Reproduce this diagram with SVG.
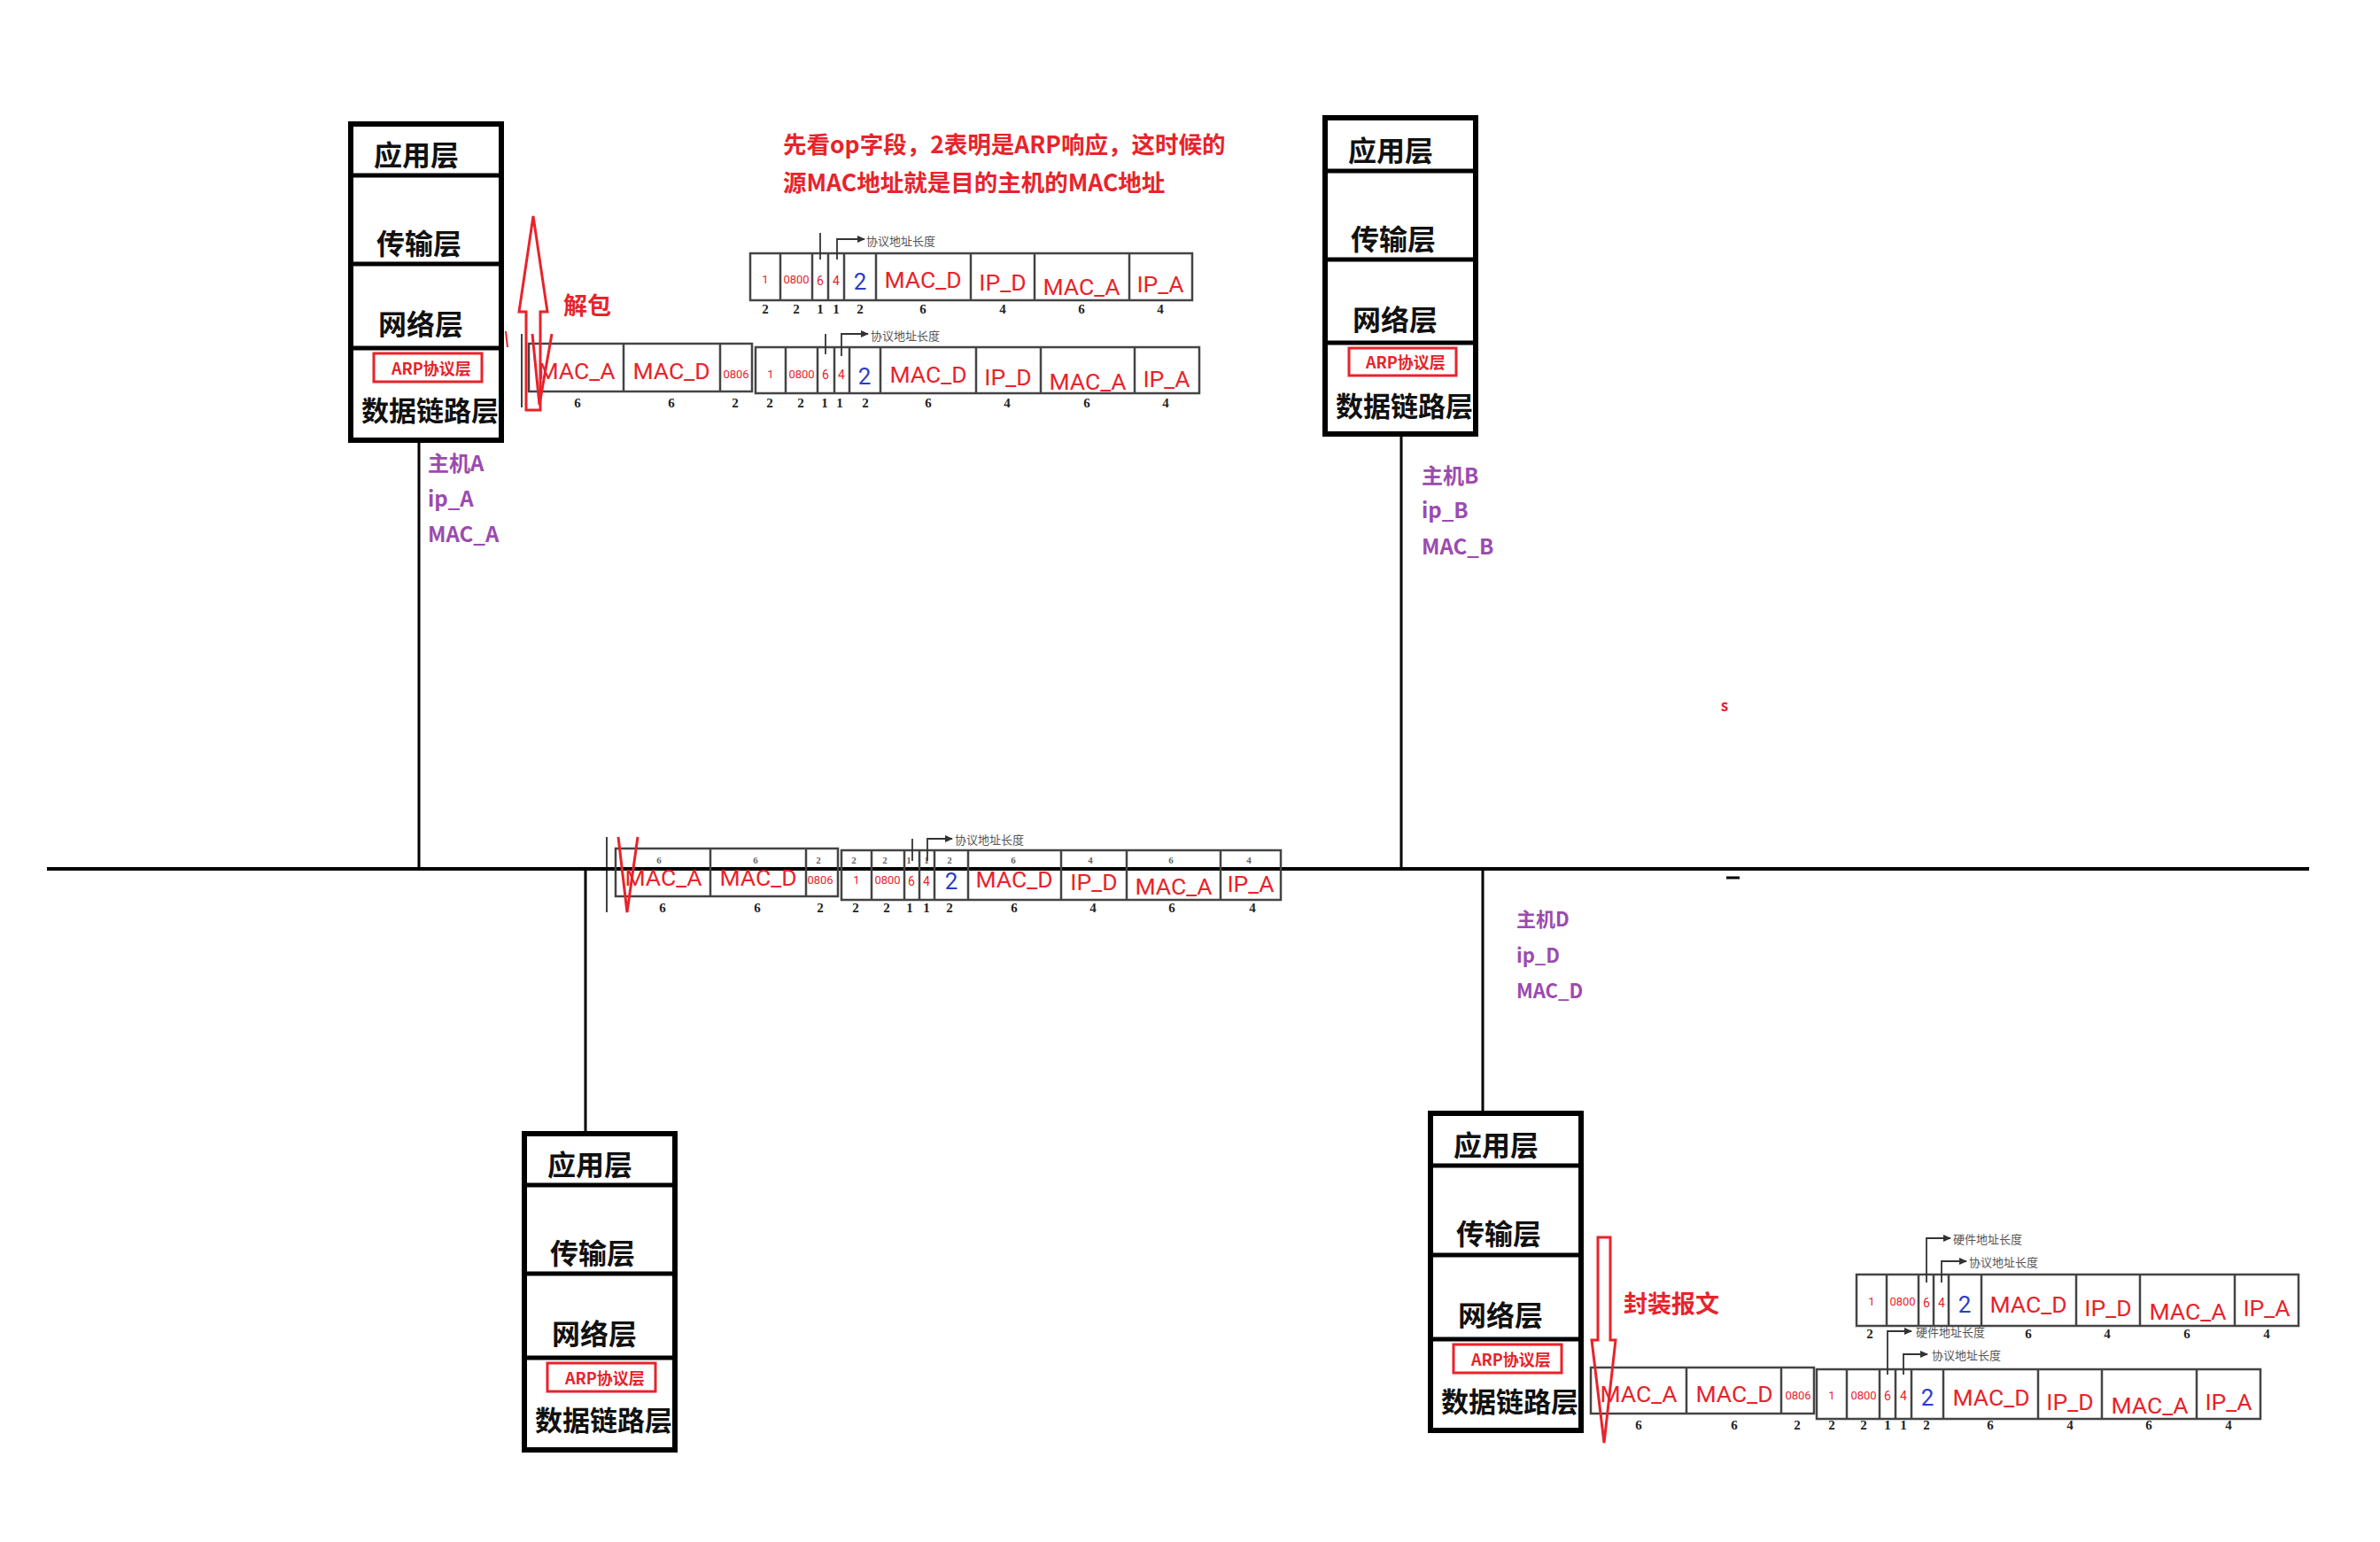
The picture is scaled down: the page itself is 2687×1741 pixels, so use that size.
<svg xmlns="http://www.w3.org/2000/svg" width="2687" height="1741" viewBox="0 0 2687 1741">
<style>
.bg{fill:#fff}
.box{fill:#fff;stroke:#000;stroke-width:6}
.dv{stroke:#000;stroke-width:5}
.lay{font-family:"Noto Sans CJK SC",sans-serif;font-weight:700;font-size:32px;fill:#111}
.dl{font-size:31px}
.arpbox{fill:none;stroke:#E8232B;stroke-width:3}
.arpt{font-family:"Noto Sans CJK SC",sans-serif;font-weight:700;font-size:18px;fill:#E8232B}
.info{font-family:"Noto Sans CJK SC",sans-serif;font-weight:700;font-size:24px;fill:#9B4BAF}
.infod{font-size:22px}
.wire{stroke:#000;stroke-width:3;fill:none}
.bus{stroke:#000;stroke-width:4}
.cell{fill:none;stroke:#444;stroke-width:2.5}
.f{font-family:Roboto,"Liberation Sans",sans-serif;fill:#E8232B;text-anchor:middle}
.big{font-size:26.5px}
.sm{font-size:13px}
.md{font-size:14px}
.op{font-family:Roboto,"Liberation Sans",sans-serif;font-size:26px;fill:#2B3CC8;text-anchor:middle}
.num{font-family:"Liberation Serif",serif;font-weight:700;font-size:15px;fill:#222;text-anchor:middle}
.inum{font-family:"Liberation Serif",serif;font-weight:700;font-size:11px;fill:#666;text-anchor:middle}
.ann{font-family:"Noto Sans CJK SC",sans-serif;font-size:13px;fill:#555}
.al{stroke:#333;stroke-width:1.8;fill:none}
.red{fill:none;stroke:#E8232B;stroke-width:3}
.title{font-family:"Noto Sans CJK SC",sans-serif;font-weight:700;font-size:26.5px;fill:#E8232B}
.lbl{font-family:"Noto Sans CJK SC",sans-serif;font-weight:700;font-size:27px;fill:#E8232B}
</style>
<defs>
<marker id="ah" markerWidth="9" markerHeight="8" refX="8" refY="4" orient="auto" markerUnits="userSpaceOnUse"><path d="M0,0 L9,4 L0,8 z" fill="#333"/></marker>
</defs>
<rect class="bg" x="0" y="0" width="2687" height="1741"/>

<g id="connectors">
<line class="bus" x1="53" y1="981" x2="2607" y2="981"/>
<line class="wire" x1="473" y1="500" x2="473" y2="981"/>
<line class="wire" x1="1582" y1="493" x2="1582" y2="981"/>
<line class="wire" x1="661" y1="981" x2="661" y2="1277"/>
<line class="wire" x1="1674" y1="981" x2="1674" y2="1254"/>
</g>

<g id="hostA" transform="translate(393,137)">
<rect class="box" x="3" y="3" width="170" height="357"/>
<line class="dv" x1="0" y1="61" x2="176" y2="61"/>
<line class="dv" x1="0" y1="161" x2="176" y2="161"/>
<line class="dv" x1="0" y1="256" x2="176" y2="256"/>
<text class="lay" x="29" y="50">应用层</text>
<text class="lay" x="32" y="150">传输层</text>
<text class="lay" x="34" y="241">网络层</text>
<rect class="arpbox" x="29" y="262" width="122" height="32"/>
<text class="arpt" x="49" y="286">ARP协议层</text>
<text class="lay dl" x="15" y="338">数据链路层</text>
</g>
<g id="hostA-info">
<text class="info" x="483" y="532">主机A</text>
<text class="info" x="483" y="572">ip_A</text>
<text class="info" x="483" y="612">MAC_A</text>
</g>

<g id="hostB" transform="translate(1493,130)">
<rect class="box" x="3" y="3" width="170" height="357"/>
<line class="dv" x1="0" y1="63" x2="176" y2="63"/>
<line class="dv" x1="0" y1="163" x2="176" y2="163"/>
<line class="dv" x1="0" y1="257" x2="176" y2="257"/>
<text class="lay" x="29" y="52">应用层</text>
<text class="lay" x="32" y="152">传输层</text>
<text class="lay" x="34" y="243">网络层</text>
<rect class="arpbox" x="30" y="263" width="121" height="31"/>
<text class="arpt" x="49" y="286">ARP协议层</text>
<text class="lay dl" x="15" y="340">数据链路层</text>
</g>
<g id="hostB-info">
<text class="info" x="1605" y="546">主机B</text>
<text class="info" x="1605" y="585">ip_B</text>
<text class="info" x="1605" y="626">MAC_B</text>
</g>

<g id="hostC" transform="translate(589,1277)">
<rect class="box" x="3" y="3" width="170" height="357"/>
<line class="dv" x1="0" y1="61" x2="176" y2="61"/>
<line class="dv" x1="0" y1="161" x2="176" y2="161"/>
<line class="dv" x1="0" y1="256" x2="176" y2="256"/>
<text class="lay" x="29" y="50">应用层</text>
<text class="lay" x="32" y="150">传输层</text>
<text class="lay" x="34" y="241">网络层</text>
<rect class="arpbox" x="29" y="262" width="122" height="32"/>
<text class="arpt" x="49" y="286">ARP协议层</text>
<text class="lay dl" x="15" y="338">数据链路层</text>
</g>

<g id="hostD" transform="translate(1612,1254)">
<rect class="box" x="3" y="3" width="170" height="358"/>
<line class="dv" x1="0" y1="62" x2="176" y2="62"/>
<line class="dv" x1="0" y1="163" x2="176" y2="163"/>
<line class="dv" x1="0" y1="258" x2="176" y2="258"/>
<text class="lay" x="29" y="51">应用层</text>
<text class="lay" x="32" y="151">传输层</text>
<text class="lay" x="34" y="243">网络层</text>
<rect class="arpbox" x="29" y="264" width="122" height="32"/>
<text class="arpt" x="49" y="288">ARP协议层</text>
<text class="lay dl" x="15" y="340">数据链路层</text>
</g>
<g id="hostD-info">
<text class="info infod" x="1712" y="1046">主机D</text>
<text class="info infod" x="1712" y="1087">ip_D</text>
<text class="info infod" x="1712" y="1127">MAC_D</text>
</g>

<g id="title">
<text class="title" x="884" y="173">先看op字段，2表明是ARP响应，这时候的</text>
<text class="title" x="884" y="216">源MAC地址就是目的主机的MAC地址</text>
</g>

<!-- P1: ARP reply at host A -->
<g id="packet1">
<path class="cell" d="M847,286 H1346 V339 H847 Z M881,286 V339 M917,286 V339 M935,286 V339 M953,286 V339 M989,286 V339 M1096,286 V339 M1168,286 V339 M1275,286 V339"/>
<text class="f sm" x="864" y="320">1</text>
<text class="f sm" x="899" y="320">0800</text>
<text class="f md" x="926" y="322">6</text>
<text class="f md" x="944" y="322">4</text>
<text class="op" x="971" y="327">2</text>
<text class="f big" x="1042" y="325">MAC_D</text>
<text class="f big" x="1132" y="328">IP_D</text>
<text class="f big" x="1221" y="333">MAC_A</text>
<text class="f big" x="1310" y="330">IP_A</text>
<text class="num" x="864" y="354">2</text><text class="num" x="899" y="354">2</text><text class="num" x="926" y="354">1</text><text class="num" x="944" y="354">1</text><text class="num" x="971" y="354">2</text><text class="num" x="1042" y="354">6</text><text class="num" x="1132" y="354">4</text><text class="num" x="1221" y="354">6</text><text class="num" x="1310" y="354">4</text>
<line class="al" x1="926" y1="293" x2="926" y2="263"/>
<polyline class="al" points="945,293 945,270 976,270" marker-end="url(#ah)"/>
<text class="ann" x="978" y="277">协议地址长度</text>
</g>

<!-- P2: full frame at host A -->
<g id="packet2">
<path class="cell" d="M597,388 H849 V442 H597 Z M704,388 V442 M813,388 V442"/>
<path class="cell" d="M853,392 H1354 V444 H853 Z M887,392 V444 M923,392 V444 M942,392 V444 M959,392 V444 M994,392 V444 M1102,392 V444 M1175,392 V444 M1281,392 V444"/>
<text class="f big" x="651" y="428">MAC_A</text>
<text class="f big" x="758" y="428">MAC_D</text>
<text class="f sm" x="831" y="427">0806</text>
<text class="f sm" x="870" y="427">1</text>
<text class="f sm" x="905" y="427">0800</text>
<text class="f md" x="932" y="428">6</text>
<text class="f md" x="950" y="428">4</text>
<text class="op" x="976" y="434">2</text>
<text class="f big" x="1048" y="432">MAC_D</text>
<text class="f big" x="1138" y="435">IP_D</text>
<text class="f big" x="1228" y="440">MAC_A</text>
<text class="f big" x="1317" y="437">IP_A</text>
<text class="num" x="652" y="460">6</text><text class="num" x="758" y="460">6</text><text class="num" x="830" y="460">2</text><text class="num" x="869" y="460">2</text><text class="num" x="904" y="460">2</text><text class="num" x="931" y="460">1</text><text class="num" x="948" y="460">1</text><text class="num" x="977" y="460">2</text><text class="num" x="1048" y="460">6</text><text class="num" x="1137" y="460">4</text><text class="num" x="1227" y="460">6</text><text class="num" x="1316" y="460">4</text>
<line class="al" x1="932" y1="400" x2="932" y2="377"/>
<polyline class="al" points="950,402 950,377 980,377" marker-end="url(#ah)"/>
<text class="ann" x="983" y="384">协议地址长度</text>
<line stroke="#000" stroke-width="1.5" x1="589" y1="377" x2="589" y2="460"/>
<line stroke="#E8232B" stroke-width="2" x1="571" y1="374" x2="573" y2="392"/>
</g>

<!-- P3: frame on the bus -->
<g id="packet3">
<line stroke="#000" stroke-width="1.5" x1="685" y1="945" x2="685" y2="1030"/>
<path class="cell" d="M695,958 H946 V1012 H695 Z M802,958 V1012 M910,958 V1012"/>
<path class="cell" d="M950,960 H1446 V1016 H950 Z M984,960 V1016 M1021,960 V1016 M1038,960 V1016 M1055,960 V1016 M1093,960 V1016 M1198,960 V1016 M1272,960 V1016 M1378,960 V1016"/>
<text class="inum" x="744" y="975">6</text><text class="inum" x="853" y="975">6</text><text class="inum" x="924" y="975">2</text><text class="inum" x="964" y="975">2</text><text class="inum" x="999" y="975">2</text><text class="inum" x="1026" y="975">1</text><text class="inum" x="1046" y="975">1</text><text class="inum" x="1072" y="975">2</text><text class="inum" x="1144" y="975">6</text><text class="inum" x="1231" y="975">4</text><text class="inum" x="1322" y="975">6</text><text class="inum" x="1410" y="975">4</text>
<text class="f big" x="749" y="1000">MAC_A</text>
<text class="f big" x="856" y="1000">MAC_D</text>
<text class="f sm" x="926" y="998">0806</text>
<text class="f sm" x="967" y="998">1</text>
<text class="f sm" x="1002" y="998">0800</text>
<text class="f md" x="1029" y="1000">6</text>
<text class="f md" x="1046" y="1000">4</text>
<text class="op" x="1074" y="1004">2</text>
<text class="f big" x="1145" y="1002">MAC_D</text>
<text class="f big" x="1235" y="1005">IP_D</text>
<text class="f big" x="1325" y="1010">MAC_A</text>
<text class="f big" x="1412" y="1007">IP_A</text>
<text class="num" x="748" y="1030">6</text><text class="num" x="855" y="1030">6</text><text class="num" x="926" y="1030">2</text><text class="num" x="966" y="1030">2</text><text class="num" x="1001" y="1030">2</text><text class="num" x="1027" y="1030">1</text><text class="num" x="1046" y="1030">1</text><text class="num" x="1072" y="1030">2</text><text class="num" x="1145" y="1030">6</text><text class="num" x="1234" y="1030">4</text><text class="num" x="1323" y="1030">6</text><text class="num" x="1414" y="1030">4</text>
<line class="al" x1="1030" y1="972" x2="1030" y2="947"/>
<polyline class="al" points="1047,972 1047,947 1075,947" marker-end="url(#ah)"/>
<text class="ann" x="1078" y="953">协议地址长度</text>
<polyline class="red" points="698,945 708,1030 720,945"/>
</g>

<!-- P4: ARP reply at host D -->
<g id="packet4">
<path class="cell" d="M2096,1439 H2595 V1497 H2096 Z M2130,1439 V1497 M2166,1439 V1497 M2183,1439 V1497 M2200,1439 V1497 M2237,1439 V1497 M2344,1439 V1497 M2416,1439 V1497 M2523,1439 V1497"/>
<text class="f sm" x="2113" y="1474">1</text>
<text class="f sm" x="2148" y="1474">0800</text>
<text class="f md" x="2175" y="1476">6</text>
<text class="f md" x="2192" y="1476">4</text>
<text class="op" x="2218" y="1482">2</text>
<text class="f big" x="2290" y="1482">MAC_D</text>
<text class="f big" x="2380" y="1486">IP_D</text>
<text class="f big" x="2470" y="1490">MAC_A</text>
<text class="f big" x="2559" y="1486">IP_A</text>
<text class="num" x="2111" y="1511">2</text><text class="num" x="2290" y="1511">6</text><text class="num" x="2379" y="1511">4</text><text class="num" x="2469" y="1511">6</text><text class="num" x="2559" y="1511">4</text>
<polyline class="al" points="2175,1448 2175,1398 2202,1398" marker-end="url(#ah)"/>
<text class="ann" x="2205" y="1404">硬件地址长度</text>
<polyline class="al" points="2192,1448 2192,1424 2220,1424" marker-end="url(#ah)"/>
<text class="ann" x="2223" y="1430">协议地址长度</text>
</g>

<!-- P5: full frame at host D -->
<g id="packet5">
<path class="cell" d="M1796,1544 H2048 V1596 H1796 Z M1904,1544 V1596 M2011,1544 V1596"/>
<path class="cell" d="M2051,1546 H2552 V1602 H2051 Z M2085,1546 V1602 M2122,1546 V1602 M2140,1546 V1602 M2158,1546 V1602 M2194,1546 V1602 M2301,1546 V1602 M2373,1546 V1602 M2480,1546 V1602"/>
<text class="f big" x="1850" y="1583">MAC_A</text>
<text class="f big" x="1958" y="1583">MAC_D</text>
<text class="f sm" x="2030" y="1580">0806</text>
<text class="f sm" x="2068" y="1580">1</text>
<text class="f sm" x="2104" y="1580">0800</text>
<text class="f md" x="2131" y="1581">6</text>
<text class="f md" x="2149" y="1581">4</text>
<text class="op" x="2176" y="1587">2</text>
<text class="f big" x="2248" y="1587">MAC_D</text>
<text class="f big" x="2337" y="1592">IP_D</text>
<text class="f big" x="2427" y="1596">MAC_A</text>
<text class="f big" x="2516" y="1592">IP_A</text>
<text class="num" x="1850" y="1614">6</text><text class="num" x="1958" y="1614">6</text><text class="num" x="2029" y="1614">2</text><text class="num" x="2068" y="1614">2</text><text class="num" x="2104" y="1614">2</text><text class="num" x="2131" y="1614">1</text><text class="num" x="2149" y="1614">1</text><text class="num" x="2175" y="1614">2</text><text class="num" x="2247" y="1614">6</text><text class="num" x="2337" y="1614">4</text><text class="num" x="2426" y="1614">6</text><text class="num" x="2516" y="1614">4</text>
<polyline class="al" points="2131,1552 2131,1503 2158,1503" marker-end="url(#ah)"/>
<text class="ann" x="2163" y="1509">硬件地址长度</text>
<polyline class="al" points="2149,1552 2149,1529 2176,1529" marker-end="url(#ah)"/>
<text class="ann" x="2181" y="1535">协议地址长度</text>
</g>

<g id="unpack">
<path class="red" d="M602,244 L618,352 L610,352 L610,463 L594,463 L594,352 L586,352 Z"/>
<polyline class="red" points="601,377 609,457 623,377"/>
<text class="lbl" x="636" y="355">解包</text>
</g>

<g id="encap">
<path class="red" d="M1804,1397 L1818,1397 L1818,1513 L1824,1513 L1811,1629 L1797,1513 L1804,1513 Z"/>
<text class="lbl" x="1833" y="1482">封装报文</text>
</g>

<text x="1947" y="803" text-anchor="middle" font-family="Noto Sans CJK SC, sans-serif" font-weight="700" font-size="17" fill="#E8232B">s</text>
<line stroke="#000" stroke-width="3" x1="1949" y1="991" x2="1964" y2="991"/>
</svg>
